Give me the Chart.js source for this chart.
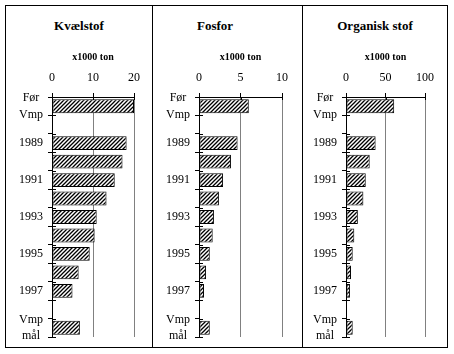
<!DOCTYPE html>
<html>
<head>
<meta charset="utf-8">
<script src="https://cdn.jsdelivr.net/npm/chart.js@4"></script>
<style>
  html, body { margin: 0; padding: 0; background: #fff; overflow: hidden; }
  body { width: 454px; height: 354px; position: relative; }
  .frame { position: absolute; left: 5px; top: 5px; width: 443px; height: 343px; border: 1px solid #000; box-sizing: border-box; }
  .divider { position: absolute; top: 5px; width: 1px; height: 343px; background: #000; }
  .title { position: absolute; top: 18px; width: 140px; text-align: center; font-family: 'Liberation Serif', 'Times New Roman', serif; font-weight: bold; font-size: 13px; line-height: 15px; color: #000; }
  canvas { position: absolute; top: 6px; }
</style>
</head>
<body>
<div class="frame"></div>
<div class="divider" style="left:152px"></div>
<div class="divider" style="left:302px"></div>
<div class="title" style="left:9px">Kvælstof</div>
<div class="title" style="left:145px">Fosfor</div>
<div class="title" style="left:305px">Organisk stof</div>
<canvas id="c1" style="left:6px" width="146" height="340"></canvas>
<canvas id="c2" style="left:153px" width="149" height="340"></canvas>
<canvas id="c3" style="left:303px" width="144" height="340"></canvas>
<script>
// categories (rows, top to bottom)
const categories = [['Før', 'Vmp'], '', '1989', '1990', '1991', '1992', '1993', '1994', '1995', '1996', '1997', '', ['Vmp', 'mål']]
const shownLabel = [true, false, true, false, true, false, true, false, true, false, true, false, true]

// x1000 ton
const kvaelstof = [20, null, 18.2, 17.2, 15.3, 13.3, 10.9, 10.4, 9.2, 6.5, 5.0, null, 6.8]
const fosfor = [6.0, null, 4.65, 3.85, 2.9, 2.4, 1.8, 1.65, 1.3, 0.85, 0.6, null, 1.3]
const organiskStof = [61, null, 37.5, 30, 25, 22, 15, 10.5, 8.5, 6.3, 5, null, 8.5]

const kvaelstofTicks = [0, 10, 20]
const fosforTicks = [0, 5, 10]
const organiskTicks = [0, 50, 100]

const serif = "'Liberation Serif', 'Times New Roman', serif"

function hatch(ctx) {
  const p = document.createElement('canvas')
  p.width = 4
  p.height = 4
  const g = p.getContext('2d')
  g.fillStyle = '#fff'
  g.fillRect(0, 0, 4, 4)
  g.strokeStyle = '#000'
  g.lineWidth = 1.3
  g.beginPath()
  g.moveTo(0, 4); g.lineTo(4, 0)
  g.moveTo(-1, 1); g.lineTo(1, -1)
  g.moveTo(3, 5); g.lineTo(5, 3)
  g.stroke()
  return ctx.createPattern(p, 'repeat')
}

// little tick marks that cross the axes, like the original
const crossTicks = {
  id: 'crossTicks',
  afterDraw(chart) {
    const { ctx, chartArea: a, scales: { x, y } } = chart
    const n = y.ticks.length
    const band = (a.bottom - a.top) / n
    ctx.save()
    ctx.strokeStyle = '#000'
    ctx.lineWidth = 1
    ctx.beginPath()
    for (let i = 0; i <= n; i++) {
      const yy = Math.round(a.top + i * band) + 0.5
      ctx.moveTo(a.left, yy)
      ctx.lineTo(a.left + 4, yy)
    }
    x.ticks.forEach(t => {
      const xx = Math.round(x.getPixelForValue(t.value)) + 0.5
      ctx.moveTo(xx, a.top)
      ctx.lineTo(xx, a.top + 3)
    })
    ctx.stroke()
    ctx.restore()
  }
}

function makeChart(id, values, ticks, yWidth, padRight) {
  const ctx = document.getElementById(id).getContext('2d')
  return new Chart(ctx, {
    type: 'bar',
    data: {
      labels: categories.map((c, i) => 'r' + i),
      datasets: [{
        data: values,
        backgroundColor: hatch(ctx),
        borderColor: '#000',
        borderWidth: 1,
        borderSkipped: false,
        barPercentage: 0.75,
        categoryPercentage: 1
      }]
    },
    options: {
      indexAxis: 'y',
      responsive: false,
      animation: false,
      layout: { padding: { top: 0, left: 0, right: padRight, bottom: 9 } },
      plugins: {
        legend: { display: false },
        tooltip: { enabled: false },
        title: { display: false }
      },
      scales: {
        x: {
          position: 'top',
          min: ticks[0],
          max: ticks[ticks.length - 1],
          afterBuildTicks: s => { s.ticks = ticks.map(v => ({ value: v })) },
          afterFit: s => { s.height = 91; s.paddingLeft = 0; s.paddingRight = 0 },
          title: {
            display: true,
            text: 'x1000 ton',
            color: '#000',
            font: { family: serif, size: 10, weight: 'bold' },
            padding: { top: 45.5, bottom: 0 }
          },
          grid: {
            color: c => (c.tick && c.tick.value === 0) ? 'rgba(0,0,0,0)' : '#808080',
            tickColor: '#000',
            tickLength: 4,
            lineWidth: 1
          },
          border: { display: true, color: '#000', width: 1 },
          ticks: {
            color: '#000',
            padding: 8,
            maxRotation: 0,
            font: { family: serif, size: 12 }
          }
        },
        y: {
          afterFit: s => { s.width = yWidth; s.paddingTop = 0; s.paddingBottom = 0 },
          grid: {
            drawOnChartArea: false,
            offset: true,
            color: '#000',
            tickLength: 4
          },
          border: { display: true, color: '#000', width: 1 },
          ticks: {
            autoSkip: false,
            crossAlign: 'center',
            color: '#000',
            padding: 5,
            font: { family: serif, size: 12, lineHeight: 1.4 },
            callback: (v, i) => shownLabel[i] ? categories[i] : ''
          }
        }
      }
    },
    plugins: [crossTicks]
  })
}

makeChart('c1', kvaelstof, kvaelstofTicks, 46, 18)
makeChart('c2', fosfor, fosforTicks, 46, 20)
makeChart('c3', organiskStof, organiskTicks, 43, 22)
</script>
</body>
</html>
